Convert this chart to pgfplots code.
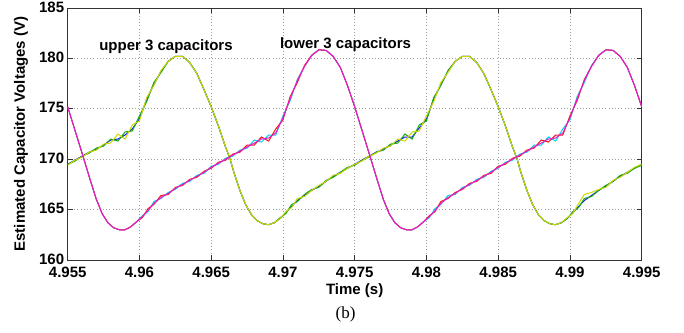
\documentclass[border=0pt]{standalone}
\usepackage{fontspec}
\setmainfont{Liberation Sans}
\newfontfamily\seriffont{Liberation Serif}
\usepackage{pgfplots}
\usepackage{pgfplotstable}
\pgfplotsset{compat=1.18}

\definecolor{mblue}{RGB}{20,20,245}
\definecolor{mgreen}{RGB}{20,170,20}
\definecolor{myellow}{RGB}{205,215,0}
\definecolor{mcyan}{RGB}{0,210,230}
\definecolor{mred}{RGB}{245,20,20}
\definecolor{mmag}{RGB}{230,30,210}

\pgfplotstableread{
t b g y
4.9550 169.5 169.5 169.4
4.9555 169.9 169.8 169.9
4.9560 170.3 170.3 170.2
4.9565 170.7 170.6 170.7
4.9570 171.0 171.1 170.9
4.9575 171.4 171.3 171.5
4.9580 171.9 172.0 171.6
4.9585 172.0 171.8 172.5
4.9590 172.4 172.7 172.0
4.9595 173.0 172.8 173.4
4.9600 174.0 174.3 173.8
4.9605 175.9 175.7 176.1
4.9610 177.4 177.6 177.3
4.9615 178.7 178.6 178.8
4.9620 179.7 179.7 179.7
4.9625 180.2 180.2 180.2
4.9630 180.2 180.2 180.2
4.9635 179.6 179.6 179.6
4.9640 178.5 178.5 178.5
4.9645 176.9 176.9 176.9
4.9650 175.2 175.2 175.2
4.9655 173.3 173.3 173.3
4.9660 171.2 171.2 171.2
4.9663 170.1 170.1 170.1
4.9666 168.6 168.6 168.6
4.9670 166.9 166.9 166.9
4.9674 165.5 165.5 165.5
4.9678 164.5 164.5 164.5
4.9682 163.9 163.9 163.9
4.9686 163.6 163.6 163.6
4.9690 163.5 163.5 163.5
4.9694 163.7 163.7 163.7
4.9698 164.1 164.2 164.1
4.9702 164.7 164.6 164.8
4.9706 165.3 165.5 165.2
4.9710 165.9 165.8 166.1
4.9715 166.4 166.5 166.3
4.9720 166.9 167.0 166.9
4.9725 167.3 167.2 167.4
4.9730 167.8 167.9 167.8
4.9735 168.3 168.2 168.4
4.9740 168.7 168.7 168.6
4.9745 169.1 169.2 169.1
4.9750 169.5 169.4 169.5
4.9755 169.9 169.9 169.8
4.9760 170.3 170.2 170.3
4.9765 170.7 170.7 170.6
4.9770 171.0 170.9 171.1
4.9775 171.4 171.5 171.3
4.9780 171.8 171.6 172.0
4.9785 172.2 172.5 171.8
4.9790 172.2 172.0 172.7
4.9795 173.1 173.4 172.8
4.9800 174.0 173.8 174.3
4.9805 175.9 176.1 175.7
4.9810 177.4 177.3 177.6
4.9815 178.7 178.8 178.6
4.9820 179.7 179.7 179.7
4.9825 180.2 180.2 180.2
4.9830 180.2 180.2 180.2
4.9835 179.6 179.6 179.6
4.9840 178.5 178.5 178.5
4.9845 176.9 176.9 176.9
4.9850 175.2 175.2 175.2
4.9855 173.3 173.3 173.3
4.9860 171.2 171.2 171.2
4.9863 170.1 170.1 170.1
4.9866 168.6 168.6 168.6
4.9870 166.9 166.9 166.9
4.9874 165.5 165.5 165.5
4.9878 164.5 164.5 164.5
4.9882 163.9 163.9 163.9
4.9886 163.6 163.6 163.6
4.9890 163.5 163.5 163.5
4.9894 163.7 163.7 163.7
4.9898 164.1 164.1 164.2
4.9902 164.7 164.8 164.6
4.9906 165.3 165.2 165.6
4.9910 165.9 166.1 166.5
4.9915 166.4 166.3 166.7
4.9920 166.9 166.9 167.0
4.9925 167.3 167.4 167.2
4.9930 167.8 167.8 167.9
4.9935 168.3 168.4 168.2
4.9940 168.7 168.6 168.7
4.9945 169.1 169.1 169.2
4.9950 169.5 169.4 169.5
}\uptab

\pgfplotstableread{
t c r m
4.9550 175.2 175.2 175.2
4.9555 172.9 172.9 172.9
4.9560 170.6 170.6 170.6
4.9563 169.2 169.2 169.2
4.9566 167.8 167.8 167.8
4.9570 166.0 166.0 166.0
4.9574 164.6 164.6 164.6
4.9578 163.7 163.7 163.7
4.9582 163.2 163.2 163.2
4.9586 163.0 163.0 163.0
4.9590 163.0 163.0 163.0
4.9594 163.3 163.3 163.3
4.9598 163.8 163.8 163.8
4.9602 164.4 164.2 164.3
4.9606 164.8 165.1 164.9
4.9610 165.8 165.5 165.6
4.9615 166.1 166.4 166.2
4.9620 166.7 166.5 166.6
4.9625 167.0 167.2 167.1
4.9630 167.6 167.4 167.5
4.9635 167.8 168.0 167.9
4.9640 168.4 168.2 168.3
4.9645 168.6 168.8 168.7
4.9650 169.3 169.1 169.2
4.9655 169.5 169.7 169.6
4.9660 170.1 169.9 170.0
4.9665 170.3 170.5 170.4
4.9670 170.9 170.7 170.8
4.9675 171.1 171.4 171.2
4.9680 171.9 171.4 171.6
4.9685 171.7 172.2 172.0
4.9690 172.4 171.8 172.1
4.9695 172.4 173.0 172.6
4.9700 174.3 173.9 174.1
4.9705 175.8 176.2 176.0
4.9710 177.9 177.6 177.8
4.9715 179.2 179.3 179.2
4.9720 180.3 180.3 180.3
4.9725 180.85 180.85 180.85
4.9730 180.8 180.8 180.8
4.9735 180.2 180.2 180.2
4.9740 179.1 179.1 179.1
4.9745 177.3 177.3 177.3
4.9750 175.2 175.2 175.2
4.9755 172.9 172.9 172.9
4.9760 170.6 170.6 170.6
4.9763 169.2 169.2 169.2
4.9766 167.8 167.8 167.8
4.9770 166.0 166.0 166.0
4.9774 164.6 164.6 164.6
4.9778 163.7 163.7 163.7
4.9782 163.2 163.2 163.2
4.9786 163.0 163.0 163.0
4.9790 163.0 163.0 163.0
4.9794 163.3 163.3 163.3
4.9798 163.8 163.8 163.8
4.9802 164.2 164.4 164.3
4.9806 165.1 164.8 164.9
4.9810 165.5 165.8 165.6
4.9815 166.4 166.1 166.2
4.9820 166.5 166.7 166.6
4.9825 167.2 167.0 167.1
4.9830 167.4 167.6 167.5
4.9835 168.0 167.8 167.9
4.9840 168.2 168.4 168.3
4.9845 168.8 168.6 168.7
4.9850 169.1 169.3 169.2
4.9855 169.7 169.5 169.6
4.9860 169.9 170.1 170.0
4.9865 170.5 170.3 170.4
4.9870 170.7 170.9 170.8
4.9875 171.4 171.1 171.2
4.9880 171.4 171.9 171.6
4.9885 172.2 171.7 172.0
4.9890 171.8 172.4 172.1
4.9895 173.0 172.4 172.6
4.9900 173.9 174.3 174.1
4.9905 176.2 175.8 176.0
4.9910 177.6 177.9 177.8
4.9915 179.3 179.2 179.2
4.9920 180.3 180.3 180.3
4.9925 180.85 180.85 180.85
4.9930 180.8 180.8 180.8
4.9935 180.2 180.2 180.2
4.9940 179.1 179.1 179.1
4.9945 177.3 177.3 177.3
4.9950 175.2 175.2 175.2
}\lowtab

\begin{document}
\begin{tikzpicture}[x=1pt,y=1pt]
\begin{axis}[
  at={(0pt,0pt)}, anchor=south west,
  scale only axis, width=574pt, height=252pt,
  xmin=4.955, xmax=4.995, ymin=160, ymax=185,
  xtick={4.955,4.96,4.965,4.97,4.975,4.98,4.985,4.99,4.995},
  xticklabels={4.955,4.96,4.965,4.97,4.975,4.98,4.985,4.99,4.995},
  ytick={160,165,170,175,180,185},
  yticklabels={160,165,170,175,180,185},
  /pgf/number format/assume math mode=true,
  grid=major,
  grid style={gray!75, line width=0.7pt, dash pattern=on 1pt off 2.2pt},
  axis line style={black!80, line width=0.9pt},
  tick style={black!80, line width=0.9pt},
  tick align=inside, major tick length=5pt,
  ticklabel style={font=\fontsize{15}{15}\selectfont\bfseries},
  xticklabel style={yshift=-3pt},
  yticklabel style={yshift=1pt},
  xlabel={Time (s)},
  xlabel style={font=\fontsize{15}{15}\selectfont\bfseries, at={(axis description cs:0.5,-0.123)}, anchor=center},
  ylabel={Estimated Capacitor Voltages (V)},
  ylabel style={font=\fontsize{15}{15}\selectfont\bfseries, at={(axis description cs:-0.0814,0.5)}, anchor=center},
  clip mode=individual,
]
\addplot[mblue, line width=1pt] table[x=t,y=b]{\uptab};
\addplot[mgreen, line width=1pt] table[x=t,y=g]{\uptab};
\addplot[myellow, line width=1pt] table[x=t,y=y]{\uptab};
\addplot[mcyan, line width=1pt] table[x=t,y=c]{\lowtab};
\addplot[mred, line width=1pt] table[x=t,y=r]{\lowtab};
\addplot[mmag, line width=1pt] table[x=t,y=m]{\lowtab};
\node[font=\fontsize{15}{15}\selectfont\bfseries] at (axis cs:4.96185,181.2) {upper 3 capacitors};
\node[font=\fontsize{15}{15}\selectfont\bfseries] at (axis cs:4.97436,181.4) {lower 3 capacitors};
\end{axis}
\node[font=\fontsize{17}{17}\selectfont\seriffont] at (277.8pt,-54.5pt) {(b)};
\pgfresetboundingbox
\useasboundingbox (-67.7pt,-72pt) rectangle (616.3pt,260pt);
\end{tikzpicture}
\end{document}
